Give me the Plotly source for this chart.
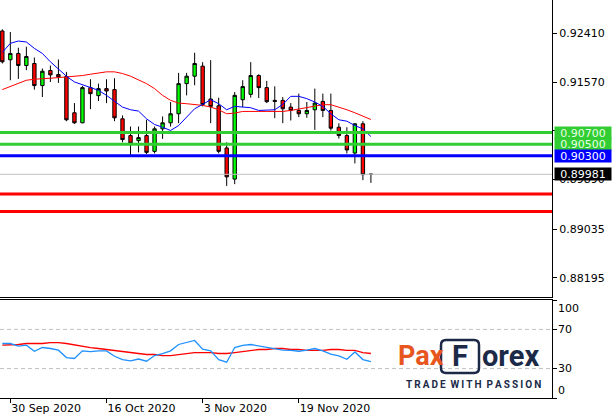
import plotly.graph_objects as go

# ---------------- data ----------------
dates = ["2020-09-29", "2020-09-30", "2020-10-01", "2020-10-02", "2020-10-05", "2020-10-06",
         "2020-10-07", "2020-10-08", "2020-10-09", "2020-10-12", "2020-10-13", "2020-10-14",
         "2020-10-15", "2020-10-16", "2020-10-19", "2020-10-20", "2020-10-21", "2020-10-22",
         "2020-10-23", "2020-10-26", "2020-10-27", "2020-10-28", "2020-10-29", "2020-10-30",
         "2020-11-02", "2020-11-03", "2020-11-04", "2020-11-05", "2020-11-06", "2020-11-09",
         "2020-11-10", "2020-11-11", "2020-11-12", "2020-11-13", "2020-11-16", "2020-11-17",
         "2020-11-18", "2020-11-19", "2020-11-20", "2020-11-23", "2020-11-24", "2020-11-25",
         "2020-11-26", "2020-11-27", "2020-11-30", "2020-12-01", "2020-12-02"]

opens = [0.92450, 0.91954, 0.92063, 0.91855, 0.91890, 0.91509, 0.91769, 0.91699, 0.91665, 0.91041,
         0.90868, 0.91474, 0.91336, 0.91457, 0.91440, 0.90937, 0.90648, 0.90561, 0.90648, 0.90376,
         0.90764, 0.90868, 0.91024, 0.91543, 0.91671, 0.91844, 0.91278, 0.91162, 0.90435, 0.89898,
         0.91266, 0.91359, 0.91682, 0.91474, 0.91255, 0.91255, 0.91139, 0.91081, 0.91024, 0.91093,
         0.91237, 0.91081, 0.90792, 0.90648, 0.90348, 0.90851, 0.89981]
highs = [0.92479, 0.92433, 0.92162, 0.92179, 0.91994, 0.91803, 0.91855, 0.91959, 0.91746, 0.91208,
         0.91503, 0.91619, 0.91543, 0.91619, 0.91636, 0.90995, 0.90804, 0.90804, 0.90920, 0.90804,
         0.90977, 0.91226, 0.91728, 0.91728, 0.92075, 0.91913, 0.91948, 0.91301, 0.90532, 0.91398,
         0.91601, 0.91913, 0.91705, 0.91590, 0.91497, 0.91312, 0.91208, 0.91370, 0.91226, 0.91457,
         0.91370, 0.91370, 0.90860, 0.90792, 0.90860, 0.90896, 0.89995]
lows = [0.91890, 0.91601, 0.91624, 0.91775, 0.91440, 0.91312, 0.91572, 0.91555, 0.90896, 0.90850,
        0.90862, 0.91104, 0.91243, 0.91208, 0.90896, 0.90532, 0.90301, 0.90359, 0.90331, 0.90341,
        0.90591, 0.90804, 0.90862, 0.91341, 0.91515, 0.91151, 0.90862, 0.90342, 0.89781, 0.89811,
        0.91139, 0.91301, 0.91295, 0.91208, 0.90948, 0.90862, 0.90908, 0.90966, 0.90954, 0.90746,
        0.90966, 0.90735, 0.90596, 0.90341, 0.90168, 0.89880, 0.89833]
closes = [0.91919, 0.92063, 0.91855, 0.92011, 0.91509, 0.91757, 0.91694, 0.91659, 0.90920, 0.90868,
          0.91474, 0.91370, 0.91457, 0.91416, 0.90954, 0.90579, 0.90515, 0.90613, 0.90359, 0.90764,
          0.90868, 0.91024, 0.91543, 0.91671, 0.91890, 0.91185, 0.91151, 0.90377, 0.89937, 0.91341,
          0.91492, 0.91682, 0.91474, 0.91232, 0.91237, 0.91110, 0.91081, 0.91024, 0.91081, 0.91208,
          0.91081, 0.90775, 0.90648, 0.90400, 0.90851, 0.89975, 0.89981]

ma_fast = [0.92081, 0.92237, 0.92277, 0.92260, 0.92150, 0.92063, 0.91919, 0.91803, 0.91671, 0.91572,
           0.91526, 0.91474, 0.91428, 0.91341, 0.91237, 0.91139, 0.91093, 0.91070, 0.90937, 0.90839,
           0.90792, 0.90735, 0.90821, 0.90966, 0.91110, 0.91185, 0.91266, 0.91197, 0.91093, 0.91151,
           0.91139, 0.91128, 0.91081, 0.91093, 0.91093, 0.91185, 0.91324, 0.91324, 0.91284, 0.91226,
           0.91151, 0.91024, 0.90920, 0.90896, 0.90821, 0.90764, 0.90631]
ma_slow = [0.91440, 0.91497, 0.91543, 0.91601, 0.91619, 0.91624, 0.91636, 0.91647, 0.91659, 0.91659,
           0.91682, 0.91705, 0.91728, 0.91746, 0.91746, 0.91717, 0.91671, 0.91613, 0.91543, 0.91457,
           0.91341, 0.91255, 0.91208, 0.91197, 0.91185, 0.91168, 0.91139, 0.91093, 0.91024, 0.91035,
           0.91064, 0.91070, 0.91064, 0.91064, 0.91064, 0.91064, 0.91081, 0.91105, 0.91128, 0.91162,
           0.91180, 0.91180, 0.91139, 0.91093, 0.91041, 0.90983, 0.90925]

osc_fast = [55.6, 55.6, 52.9, 53.9, 47.7, 51.5, 50.5, 48.8, 41.3, 40.3,
            48.1, 47.4, 48.1, 48.1, 42.6, 39.2, 37.8, 39.8, 37.5, 43.3,
            45.4, 48.1, 54.6, 56.8, 58.7, 49.8, 48.1, 39.2, 36.5, 51.5,
            53.6, 54.6, 53.2, 51.1, 49.8, 48.8, 48.5, 47.7, 48.8, 50.5,
            48.1, 44.7, 42.9, 39.5, 47.0, 39.2, 37.2]
osc_slow = [53.9, 53.9, 54.6, 55.6, 55.6, 55.6, 56.6, 56.6, 55.6, 54.2,
            52.5, 51.5, 50.5, 49.5, 48.5, 47.4, 46.4, 45.4, 44.4, 44.4,
            43.3, 43.3, 44.4, 45.4, 46.4, 46.4, 46.4, 45.4, 45.4, 46.4,
            47.4, 48.5, 49.5, 49.5, 50.5, 50.5, 49.5, 49.5, 48.5, 48.5,
            48.5, 49.5, 49.5, 48.5, 48.5, 46.4, 45.4]

green_levels = [0.90700, 0.90500]
green_labels = ["0.90700", "0.90500"]
blue_levels = [0.90300]
blue_labels = ["0.90300"]
red_levels = [0.89640, 0.89340]
last_price = 0.89981
last_label = "0.89981"

price_ticks = [0.92410, 0.91570, 0.90730, 0.89890, 0.89035, 0.88195]
price_tick_text = ["0.92410", "0.91570", "", "0.89890", "0.89035", "0.88195"]
osc_levels = [70, 30]
osc_ticks = [100, 70, 30, 0]
osc_tick_text = ["100", "70", "30", "0"]
date_ticks = ["2020-09-30", "2020-10-16", "2020-11-03", "2020-11-19"]
date_tick_text = ["30 Sep 2020", "16 Oct 2020", "3 Nov 2020", "19 Nov 2020"]

# ---------------- layout helpers ----------------
W, H = 616, 418
ML, MR, MT, MB = 0, 64, 0, 20
PW, PH = W - ML - MR, H - MT - MB


def xp(px):
    return (px - ML) / PW


def yp(py):
    return (H - MB - py) / PH


FONT = "DejaVu Sans"
x_range = [-0.29, 68.6]
price_range = [0.878674, 0.929836]

fig = go.Figure()

fig.add_trace(go.Candlestick(
    x=dates, open=opens, high=highs, low=lows, close=closes,
    increasing=dict(fillcolor="#00FF00", line=dict(color="black", width=1)),
    decreasing=dict(fillcolor="#FF0000", line=dict(color="black", width=1)),
    whiskerwidth=0, xaxis="x", yaxis="y", hoverinfo="skip", showlegend=False))

fig.add_trace(go.Scatter(x=dates, y=ma_slow, mode="lines", line=dict(color="#FF0000", width=1),
                         xaxis="x", yaxis="y", hoverinfo="skip", showlegend=False))
fig.add_trace(go.Scatter(x=dates, y=ma_fast, mode="lines", line=dict(color="#0000FF", width=1),
                         xaxis="x", yaxis="y", hoverinfo="skip", showlegend=False))

fig.add_trace(go.Scatter(x=dates, y=osc_slow, mode="lines", line=dict(color="#FF0000", width=1.3),
                         xaxis="x2", yaxis="y2", hoverinfo="skip", showlegend=False))
fig.add_trace(go.Scatter(x=dates, y=osc_fast, mode="lines", line=dict(color="#1E90FF", width=1.3),
                         xaxis="x2", yaxis="y2", hoverinfo="skip", showlegend=False))

shapes = []
shapes.append(dict(type="line", xref="x domain", yref="y", x0=0, x1=1, y0=last_price, y1=last_price,
                   line=dict(color="#C0C0C0", width=1), layer="above"))
for lv in green_levels:
    shapes.append(dict(type="line", xref="x domain", yref="y", x0=0, x1=1, y0=lv, y1=lv,
                       line=dict(color="#32CD32", width=3), layer="above"))
for lv in blue_levels:
    shapes.append(dict(type="line", xref="x domain", yref="y", x0=0, x1=1, y0=lv, y1=lv,
                       line=dict(color="#0000FF", width=3), layer="above"))
for lv in red_levels:
    shapes.append(dict(type="line", xref="x domain", yref="y", x0=0, x1=1, y0=lv, y1=lv,
                       line=dict(color="#FF0000", width=3), layer="above"))
for lv in osc_levels:
    shapes.append(dict(type="line", xref="x2 domain", yref="y2", x0=0, x1=1, y0=lv, y1=lv,
                       line=dict(color="#C0C0C0", width=1, dash="4px,3px"), layer="below"))

# rounded box around the "F" of the logo
bx0, bx1, by0, by1, r = 441, 479, 340, 373, 5
rx, ry = r / PW, r / PH
X0, X1, Y0, Y1 = xp(bx0), xp(bx1), yp(by1), yp(by0)
path = (f"M {X0+rx},{Y0} L {X1-rx},{Y0} Q {X1},{Y0} {X1},{Y0+ry} L {X1},{Y1-ry} "
        f"Q {X1},{Y1} {X1-rx},{Y1} L {X0+rx},{Y1} Q {X0},{Y1} {X0},{Y1-ry} "
        f"L {X0},{Y0+ry} Q {X0},{Y0} {X0+rx},{Y0} Z")
shapes.append(dict(type="path", xref="paper", yref="paper", path=path,
                   line=dict(color="#1C2A48", width=2.5), layer="above"))

annotations = []
for lv, txt in zip(green_levels, green_labels):
    annotations.append(dict(xref="paper", yref="y", x=1, y=lv, xanchor="left", yanchor="middle",
                            xshift=2, text=txt, showarrow=False, bgcolor="#32CD32",
                            width=56, height=12, borderpad=0,
                            font=dict(family=FONT, size=11, color="#E8FFE8")))
for lv, txt in zip(blue_levels, blue_labels):
    annotations.append(dict(xref="paper", yref="y", x=1, y=lv, xanchor="left", yanchor="middle",
                            xshift=2, text=txt, showarrow=False, bgcolor="#0000FF",
                            width=56, height=12, borderpad=0,
                            font=dict(family=FONT, size=11, color="white")))
annotations.append(dict(xref="paper", yref="y", x=1, y=last_price, xanchor="left", yanchor="middle",
                        xshift=2, text=last_label, showarrow=False, bgcolor="black",
                        width=56, height=12, borderpad=0,
                        font=dict(family=FONT, size=11, color="white")))

osc_shift = {100: -8, 70: 0, 30: 0, 0: 8}
for v, t in zip(osc_ticks, osc_tick_text):
    annotations.append(dict(xref="paper", yref="y2", x=1, y=v, xanchor="left", yanchor="middle",
                            xshift=4, yshift=osc_shift[v], text=t, showarrow=False,
                            font=dict(family=FONT, size=11, color="black")))

# logo
annotations.append(dict(xref="paper", yref="paper", x=xp(446), y=yp(356), xanchor="right",
                        yanchor="middle", text="<b>Pax</b>", showarrow=False,
                        font=dict(family="Roboto", size=27, color="#E8561F")))
annotations.append(dict(xref="paper", yref="paper", x=xp(460), y=yp(356), xanchor="center",
                        yanchor="middle", text="<b>F</b>", showarrow=False,
                        font=dict(family="Roboto", size=29, color="#1C2A48")))
annotations.append(dict(xref="paper", yref="paper", x=xp(480), y=yp(356), xanchor="left",
                        yanchor="middle", text="<b>orex</b>", showarrow=False,
                        font=dict(family="Roboto", size=29, color="#1C2A48")))
annotations.append(dict(xref="paper", yref="paper", x=xp(473), y=yp(384), xanchor="center",
                        yanchor="middle",
                        text="<b>T\u2009R\u2009A\u2009D\u2009E  W\u2009I\u2009T\u2009H  P\u2009A\u2009S\u2009S\u2009I\u2009O\u2009N</b>",
                        showarrow=False, font=dict(family="Roboto", size=10, color="#1C2A48")))

main_bottom = yp(297)
osc_top = yp(300)

fig.update_layout(
    width=W, height=H,
    margin=dict(l=ML, r=MR, t=MT, b=MB, pad=0),
    paper_bgcolor="white", plot_bgcolor="white",
    showlegend=False, boxgap=0.4,
    font=dict(family=FONT, size=11, color="black"),
    xaxis=dict(domain=[0, 1], anchor="y", type="category", range=x_range,
               showticklabels=False, ticks="", showgrid=False, zeroline=False,
               showline=True, linecolor="black", linewidth=1,
               rangeslider=dict(visible=False), fixedrange=True),
    yaxis=dict(domain=[main_bottom, 1], anchor="x", side="right", range=price_range,
               tickvals=price_ticks, ticktext=price_tick_text, ticks="outside", ticklen=4,
               tickcolor="black", showgrid=False, zeroline=False, showline=True,
               linecolor="black", linewidth=1, fixedrange=True,
               tickfont=dict(family=FONT, size=11, color="black")),
    xaxis2=dict(domain=[0, 1], anchor="y2", type="category", range=x_range,
                tickvals=date_ticks, ticktext=date_tick_text, ticks="outside", ticklen=4,
                tickcolor="black", ticklabelposition="outside right",
                showgrid=False, zeroline=False, showline=True, mirror=True,
                linecolor="black", linewidth=1, fixedrange=True,
                tickfont=dict(family=FONT, size=11, color="black")),
    yaxis2=dict(domain=[0, osc_top], anchor="x2", side="right", range=[0, 100],
                tickvals=osc_ticks, showticklabels=False, ticks="outside", ticklen=4,
                tickcolor="black", showgrid=False, zeroline=False, showline=True,
                linecolor="black", linewidth=1, fixedrange=True),
    shapes=shapes, annotations=annotations,
)

fig.write_html("out.html", config={"displayModeBar": False},
               post_script="document.body.style.margin='0';document.body.style.overflow='hidden';")
